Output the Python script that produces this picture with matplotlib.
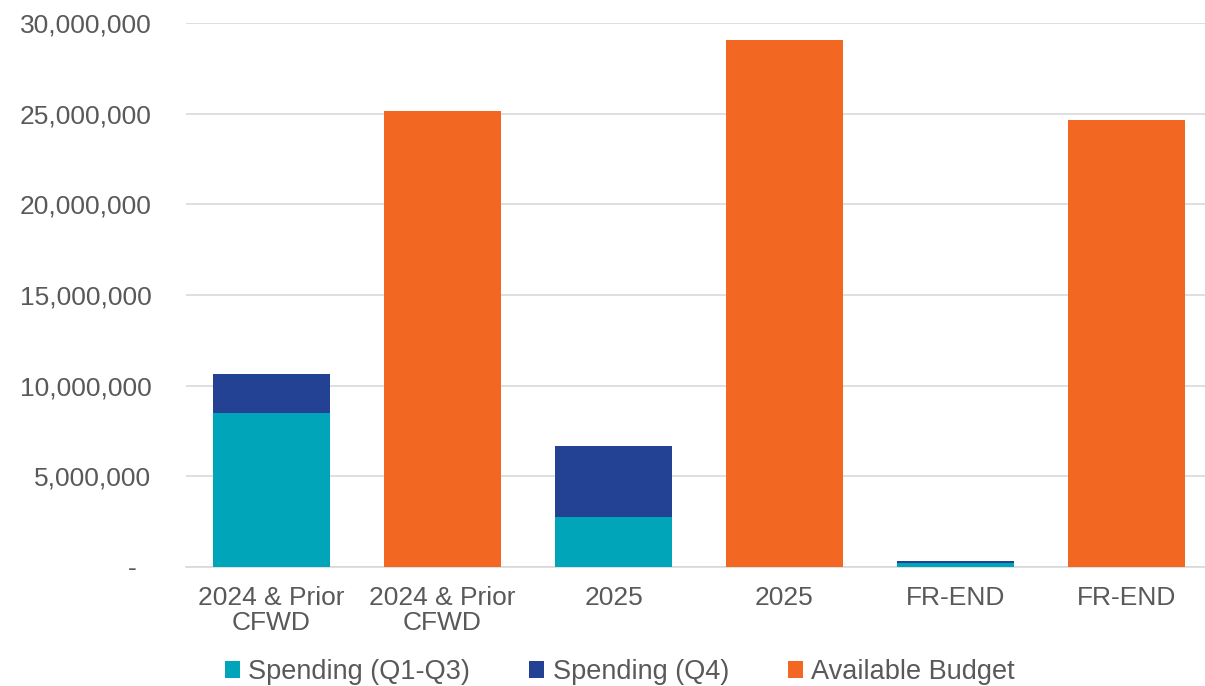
import numpy as np
import matplotlib.pyplot as plt
from matplotlib.ticker import FuncFormatter

plt.rcParams['font.family'] = ['Liberation Sans', 'DejaVu Sans']

categories = ['2024 & Prior\nCFWD', '2024 & Prior\nCFWD', '2025', '2025', 'FR-END', 'FR-END']
spend_q1_q3 = [8_520_000, 0, 2_750_000, 0, 200_000, 0]
spend_q4 = [2_130_000, 0, 3_900_000, 0, 130_000, 0]
available_budget = [0, 25_150_000, 0, 29_070_000, 0, 24_650_000]

TEAL = '#00A5B9'
NAVY = '#234294'
ORANGE = '#F26822'
TEXT = '#595959'
GRID = '#D9D9D9'
FS = 19

fig = plt.figure(figsize=(12.05, 6.86), dpi=100)
ax = fig.add_axes([186 / 1205, 1 - 567 / 686, (1212 - 186) / 1205, (567 - 23) / 686])

x = np.arange(len(categories))
w = 0.69
q13 = np.array(spend_q1_q3)
q4 = np.array(spend_q4)
ax.bar(x, q13, w, color=TEAL, label='Spending (Q1-Q3)', zorder=3)
ax.bar(x, q4, w, bottom=q13, color=NAVY, label='Spending (Q4)', zorder=3)
ax.bar(x, available_budget, w, bottom=q13 + q4, color=ORANGE,
       label='Available Budget', zorder=3)

ax.set_xlim(-0.5, len(categories) - 0.5)
ax.set_ylim(0, 30_000_000)
ax.set_yticks(np.arange(0, 30_000_001, 5_000_000))
ax.yaxis.set_major_formatter(FuncFormatter(lambda v, _: '-  ' if v == 0 else f'{v:,.0f}'))
ax.set_xticks(x)
ax.set_xticklabels(categories)

ax.grid(axis='y', color=GRID, linewidth=1.2, zorder=0)
for s in ['top', 'right', 'left']:
    ax.spines[s].set_visible(False)
ax.spines['bottom'].set_color(GRID)
ax.spines['bottom'].set_linewidth(1.2)
ax.tick_params(axis='both', length=0, colors=TEXT, labelsize=FS)
ax.tick_params(axis='y', pad=25)
ax.tick_params(axis='x', pad=14)
for lbl in ax.get_xticklabels():
    lbl.set_linespacing(1.05)

fig.legend(*ax.get_legend_handles_labels(), loc='center',
           bbox_to_anchor=(620 / 1205, 1 - 672 / 686), ncol=3,
           frameon=False, fontsize=19.5, labelcolor=TEXT,
           handlelength=0.55, handleheight=0.55, handletextpad=0.3,
           columnspacing=2.2, borderpad=0, borderaxespad=0)

fig.savefig('out.png', dpi=100)
